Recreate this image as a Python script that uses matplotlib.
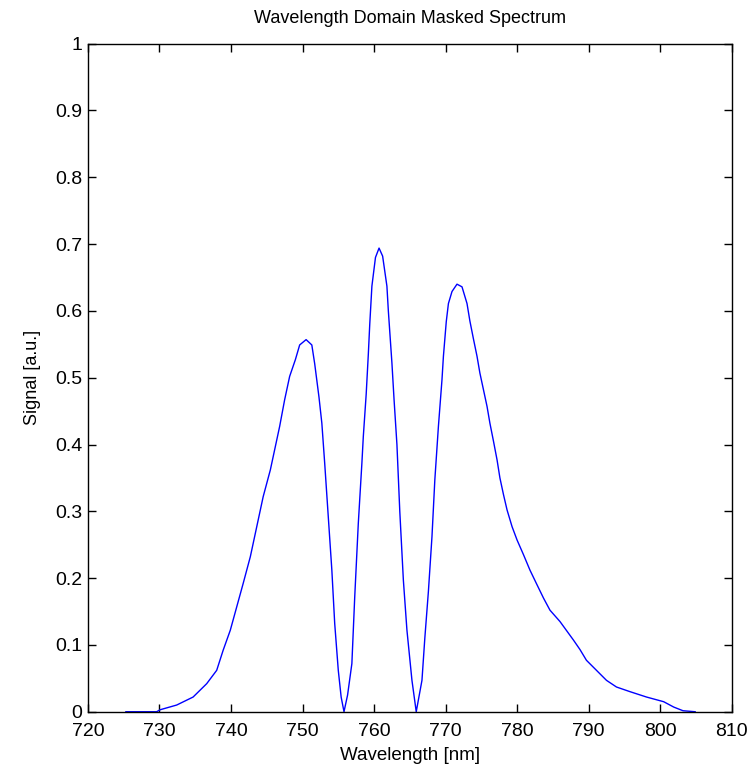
import numpy as np
import matplotlib.pyplot as plt

# points
wavelength = [725.3, 729.6, 730.1, 732.4, 734.7, 736.6, 738.0, 738.9, 739.9, 740.8,
              741.7, 742.7, 743.6, 744.5, 745.5, 746.4, 746.8, 747.5, 748.2, 749.0,
              749.6, 750.5, 751.3, 751.7, 752.3, 752.7, 753.1, 753.6, 754.1, 754.5,
              755.0, 755.4, 755.8, 756.3, 756.9, 757.3, 757.8, 758.3, 758.5, 758.9,
              759.2, 759.4, 759.7, 760.2, 760.7, 761.2, 761.8, 762.0, 762.5, 762.8,
              763.2, 763.6, 764.1, 764.6, 765.3, 765.9, 766.7, 767.1, 767.6, 768.1,
              768.5, 769.0, 769.5, 769.7, 770.1, 770.4, 770.9, 771.6, 772.3, 773.0,
              773.4, 773.9, 774.4, 774.8, 775.3, 775.8, 776.2, 776.7, 777.2, 777.6,
              778.1, 778.6, 779.3, 780.0, 780.9, 781.8, 782.7, 783.7, 784.6, 786.0,
              787.9, 788.8, 789.7, 791.1, 792.5, 793.9, 795.8, 798.1, 800.5, 801.9,
              803.2, 804.9]
signal = [0.0, 0.0, 0.003, 0.010, 0.022, 0.042, 0.062, 0.092, 0.122, 0.157,
          0.192, 0.232, 0.277, 0.322, 0.362, 0.407, 0.427, 0.467, 0.502, 0.527,
          0.549, 0.557, 0.549, 0.521, 0.471, 0.432, 0.372, 0.292, 0.212, 0.132,
          0.062, 0.022, 0.0, 0.025, 0.072, 0.172, 0.282, 0.372, 0.412, 0.475,
          0.535, 0.580, 0.637, 0.680, 0.694, 0.682, 0.637, 0.600, 0.522, 0.467,
          0.400, 0.300, 0.197, 0.122, 0.047, 0.0, 0.047, 0.110, 0.180, 0.262,
          0.347, 0.427, 0.497, 0.532, 0.584, 0.611, 0.629, 0.640, 0.636, 0.611,
          0.585, 0.558, 0.532, 0.507, 0.482, 0.457, 0.432, 0.405, 0.377, 0.350,
          0.325, 0.302, 0.277, 0.257, 0.235, 0.212, 0.192, 0.170, 0.152, 0.135,
          0.107, 0.093, 0.077, 0.062, 0.047, 0.037, 0.030, 0.022, 0.015, 0.007,
          0.0015, 0.0]

plt.rcParams['font.family'] = ['Liberation Sans', 'DejaVu Sans']

fig = plt.figure(figsize=(7.5, 7.77), dpi=100)
ax = fig.add_axes([0.1173, 0.084, 0.8582, 0.8598])

ax.plot(wavelength, signal, color='#0000ff', linewidth=1.0)

ax.set_xlim(720, 810)
ax.set_ylim(0, 1)
ax.set_xticks(np.arange(720, 811, 10))
ax.set_yticks(np.arange(0, 1.01, 0.1))
ax.set_yticklabels(['0', '0.1', '0.2', '0.3', '0.4', '0.5', '0.6', '0.7', '0.8', '0.9', '1'])
ax.tick_params(direction='in', top=True, right=True, length=6, width=1,
               labelsize=14)
ax.tick_params(axis='x', pad=8)
ax.tick_params(axis='y', pad=4)
for s in ax.spines.values():
    s.set_linewidth(1)

ax.set_title('Wavelength Domain Masked Spectrum', fontsize=13, pad=15)
ax.set_xlabel('Wavelength [nm]', fontsize=13.5, labelpad=5)
ax.set_ylabel('Signal [a.u.]', fontsize=13, labelpad=10)

plt.savefig('out.png', dpi=100)
